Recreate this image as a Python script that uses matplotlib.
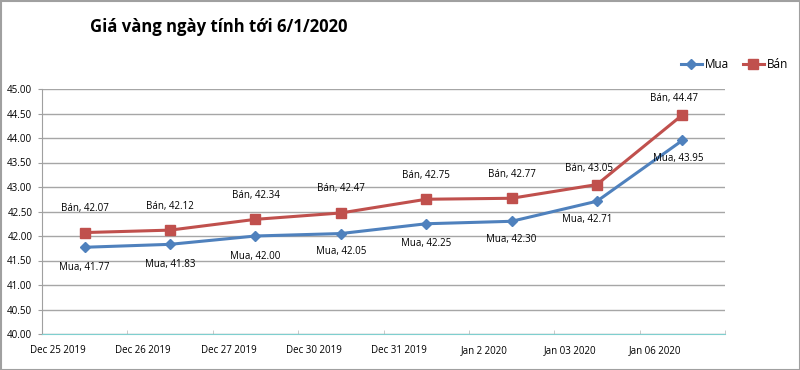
import matplotlib
matplotlib.use("Agg")
import matplotlib.pyplot as plt
from matplotlib.patches import Rectangle
import matplotlib.transforms as mtransforms
import numpy as np

categories = ["Dec 25 2019", "Dec 26 2019", "Dec 27 2019", "Dec 30 2019",
              "Dec 31 2019", "Jan 2 2020", "Jan 03 2020", "Jan 06 2020"]
mua = [41.77, 41.83, 42.00, 42.05, 42.25, 42.30, 42.71, 43.95]
ban = [42.07, 42.12, 42.34, 42.47, 42.75, 42.77, 43.05, 44.47]
yticks = [40.0, 40.5, 41.0, 41.5, 42.0, 42.5, 43.0, 43.5, 44.0, 44.5, 45.0]

plt.rcParams['font.family'] = ['Open Sans', 'DejaVu Sans']

fig = plt.figure(figsize=(8, 3.7), dpi=100)
ax = fig.add_axes([42/800, 1-334/370, (725-42)/800, (334-89)/370])

x = np.arange(len(categories))
blue = '#4F81BD'
red = '#C0504D'
ax.plot(x, mua, color=blue, lw=2.2, marker='D', ms=5, label='Mua', zorder=3)
ax.plot(x, ban, color=red, lw=2.2, marker='s', ms=7, label='Bán', zorder=3)

ax.set_xlim(-0.5, len(categories) - 0.5)
ax.set_ylim(40, 45)
ax.set_yticks(yticks)
ax.set_yticklabels([f"{v:.2f}" for v in yticks], fontsize=7)
ax.set_xticks(x)
ax.set_xticklabels(categories, fontsize=7)
ax.tick_params(axis='x', length=0, pad=8)
shift = mtransforms.ScaledTranslation(-27/100, 0, fig.dpi_scale_trans)
for lab in ax.get_xticklabels():
    lab.set_transform(lab.get_transform() + shift)
ax.set_xticks(np.arange(len(categories) + 1) - 0.5, minor=True)
ax.tick_params(axis='x', which='minor', length=3, color='#C0C0C0', direction='in')
ax.tick_params(axis='y', length=3, color='#A0A0A0', pad=4)
ax.grid(axis='y', color='#A6A6A6', lw=1)
ax.set_axisbelow(True)
for s in ['top', 'right']:
    ax.spines[s].set_visible(False)
ax.spines['left'].set_color('#A0A0A0')
ax.spines['bottom'].set_color('#7FCFCF')

# data labels (pixel offsets)
ban_off = [(0, 24), (0, 24), (0, 24), (0, 24), (0, 24), (0, 24), (-8, 16), (-8, 16)]
mua_off = [(0, -20), (0, -20), (0, -20), (0, -18), (0, -20), (0, -18), (-10, -18), (-4, -18)]
for i in range(len(categories)):
    ax.annotate(f"Bán, {ban[i]:.2f}", (x[i], ban[i]), xytext=ban_off[i],
                textcoords='offset pixels', ha='center', va='center', fontsize=7)
    ax.annotate(f"Mua, {mua[i]:.2f}", (x[i], mua[i]), xytext=mua_off[i],
                textcoords='offset pixels', ha='center', va='center', fontsize=7)

fig.text(219/800, 1-27/370, "Giá vàng ngày tính tới 6/1/2020", ha='center', va='center',
         fontsize=12, fontweight='bold')

leg = fig.legend(loc='center right', bbox_to_anchor=(797/800, 1-65/370), ncol=2,
                 frameon=False, fontsize=8.5, handlelength=1.8, columnspacing=1.1,
                 handletextpad=0.3, borderpad=0.2)

fig.patches.append(Rectangle((0.5/800, 0.5/370), 1-1/800, 1-1/370, transform=fig.transFigure,
                             fill=False, edgecolor='#A0A0A0', lw=1.5))

fig.savefig("out.png", dpi=100)
